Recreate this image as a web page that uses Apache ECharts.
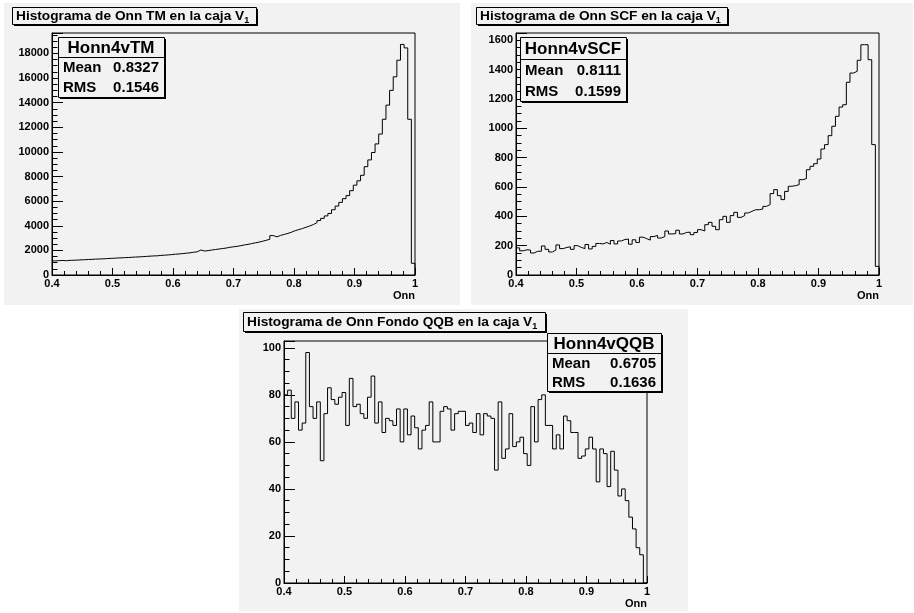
<!DOCTYPE html>
<html><head><meta charset="utf-8">
<script src="https://cdn.jsdelivr.net/npm/echarts@6/dist/echarts.min.js"></script>
<style>html,body{margin:0;padding:0;background:#fff}#c{width:914px;height:613px}</style>
</head><body><div id="c"></div>
<script>
// ---------------- DATA ----------------
const binEdgeMin = 0.4;
const binEdgeMax = 1.0;
const nBins = 100;
const xAxisTitle = 'Onn';

const valuesTM = [
  1150,1170,1180,1160,1190,1200,1210,1230,1240,1260,
  1270,1290,1300,1310,1330,1350,1360,1380,1390,1410,
  1420,1440,1460,1470,1490,1510,1530,1550,1560,1590,
  1610,1630,1660,1690,1710,1740,1770,1800,1850,1880,
  2030,1950,1980,2030,2070,2110,2150,2190,2250,2290,
  2330,2380,2440,2490,2550,2610,2670,2740,2820,2900,
  3200,3100,3220,3300,3380,3480,3600,3690,3780,3880,
  3980,4100,4250,4420,4600,4800,5000,5300,5600,5900,
  6200,6450,6850,7300,7650,8100,8800,9350,9950,10650,
  11450,12650,13800,15000,16100,17450,18730,18450,12650,950
];
const valuesSCF = [
  185,165,172,170,150,162,162,198,175,157,
  170,205,180,188,192,175,200,188,180,208,
  178,195,215,212,222,210,235,212,232,242,
  245,210,240,222,258,248,238,262,270,252,
  262,300,280,282,305,280,290,292,275,290,
  309,300,343,359,332,309,377,400,359,405,
  427,393,405,423,434,445,445,450,468,480,
  555,582,541,514,570,605,609,616,650,657,
  718,741,759,791,859,889,950,1014,1082,1145,
  1161,1314,1377,1389,1464,1570,1570,1468,889,59
];
const valuesQQB = [
  80,82,70,77,65,68,98,75,70,77,
  52,72,83,78,76,79,81,67,87,75,
  76,72,70,79,88,68,77,64,70,69,
  67,74,60,74,63,71,66,57,65,67,
  77,60,60,73,75,74,65,72,73,73,
  67,68,64,72,63,72,71,70,48,77,
  53,57,72,58,60,62,55,50,75,60,
  78,80,67,67,57,63,57,71,69,64,
  64,53,54,57,62,57,43,57,55,41,
  56,48,37,40,35,28,23,15,12,0
];

const histTitles = [
  'Histograma de Onn TM en la caja V',
  'Histograma de Onn SCF en la caja V',
  'Histograma de Onn Fondo QQB en la caja V'
];
const titleSub = '1';
const statsNames = ['Honn4vTM', 'Honn4vSCF', 'Honn4vQQB'];
const statsMean = ['0.8327', '0.8111', '0.6705'];
const statsRMS = ['0.1546', '0.1599', '0.1636'];
const yMaxes = [19660, 1650, 102.9];
const yIntervals = [2000, 200, 20];

// ---------------- LAYOUT ----------------
const FONT = '"Liberation Sans", Arial, Helvetica, sans-serif';
const PAD_BG = '#f2f2f2';
const pads = [
  {x: 4, y: 3, w: 456, h: 302},
  {x: 471, y: 3, w: 442, h: 302},
  {x: 239, y: 309, w: 449, h: 302}
];
const frames = [
  {left: 52, top: 33, width: 363, height: 242},
  {left: 516, top: 33, width: 363, height: 242},
  {left: 284, top: 341, width: 363, height: 242}
];
const titleBoxes = [
  {x: 12, y: 7, w: 244, h: 17},
  {x: 476, y: 7, w: 251, h: 17},
  {x: 243, y: 312, w: 302, h: 19}
];
const statBoxes = [
  {x: 58, y: 37, w: 106, h: 60, sep: 20},
  {x: 520, y: 37, w: 106, h: 64, sep: 22},
  {x: 547, y: 333, w: 114, h: 58, sep: 20}
];

function stepData(values) {
  const bw = (binEdgeMax - binEdgeMin) / nBins;
  const d = values.map((v, i) => [binEdgeMin + i * bw, v]);
  d.push([binEdgeMax, values[values.length - 1]]);
  d.push([binEdgeMax, 0]);
  return d;
}

const allValues = [valuesTM, valuesSCF, valuesQQB];

const grid = frames.map(f => ({
  left: f.left, top: f.top, width: f.width, height: f.height,
  show: true, backgroundColor: PAD_BG, borderColor: '#000', borderWidth: 1,
  containLabel: false
}));

const labelStyle = {color: '#000', fontFamily: FONT, fontWeight: 'bold', fontSize: 11};

const xAxis = frames.map((f, i) => ({
  gridIndex: i, type: 'value', min: binEdgeMin, max: binEdgeMax, interval: 0.1,
  axisLine: {show: true, onZero: false, lineStyle: {color: '#000', width: 1}},
  axisTick: {show: true, inside: true, length: 7, lineStyle: {color: '#000', width: 1}},
  minorTick: {show: true, splitNumber: 5, length: 4, lineStyle: {color: '#000', width: 1}},
  splitLine: {show: false},
  axisLabel: Object.assign({margin: 3, formatter: v => String(+v.toFixed(2))}, labelStyle),
  name: xAxisTitle, nameLocation: 'end', nameGap: 0,
  nameTextStyle: Object.assign({align: 'right', verticalAlign: 'top', padding: [15, 0, 0, 0]}, labelStyle)
}));

const yAxis = frames.map((f, i) => ({
  gridIndex: i, type: 'value', min: 0, max: yMaxes[i], interval: yIntervals[i],
  axisLine: {show: true, onZero: false, lineStyle: {color: '#000', width: 1}},
  axisTick: {show: true, inside: true, length: 11, lineStyle: {color: '#000', width: 1}},
  minorTick: {show: true, splitNumber: 4, length: 5.5, lineStyle: {color: '#000', width: 1}},
  splitLine: {show: false},
  axisLabel: Object.assign({margin: 3, showMaxLabel: false, formatter: v => String(v)}, labelStyle)
}));

const series = allValues.map((vals, i) => ({
  type: 'line', xAxisIndex: i, yAxisIndex: i, step: 'end',
  data: stepData(vals), showSymbol: false, symbol: 'none', silent: true,
  lineStyle: {color: '#000', width: 1}, clip: true, z: 5
}));

const graphics = [];
pads.forEach(p => graphics.push({
  type: 'rect', z: -100, silent: true,
  shape: {x: p.x, y: p.y, width: p.w, height: p.h},
  style: {fill: PAD_BG}
}));

titleBoxes.forEach((b, i) => {
  graphics.push({type: 'rect', z: 100, silent: true,
    shape: {x: b.x + 2, y: b.y + 2, width: b.w, height: b.h}, style: {fill: '#000'}});
  graphics.push({type: 'rect', z: 101, silent: true,
    shape: {x: b.x + 0.5, y: b.y + 0.5, width: b.w, height: b.h},
    style: {fill: PAD_BG, stroke: '#000', lineWidth: 1}});
  graphics.push({type: 'text', z: 102, silent: true,
    x: b.x + 4, y: b.y + b.h / 2 + 1,
    style: {
      text: '{a|' + histTitles[i] + '}{s|' + titleSub + '}',
      verticalAlign: 'middle', align: 'left',
      rich: {
        a: {fontFamily: FONT, fontWeight: 'bold', fontSize: 13.7, fill: '#000', lineHeight: 18, verticalAlign: 'middle'},
        s: {fontFamily: FONT, fontWeight: 'bold', fontSize: 9, fill: '#000', lineHeight: 9, verticalAlign: 'bottom'}
      }
    }});
});

statBoxes.forEach((b, i) => {
  graphics.push({type: 'rect', z: 100, silent: true,
    shape: {x: b.x + 2, y: b.y + 2, width: b.w, height: b.h}, style: {fill: '#000'}});
  graphics.push({type: 'rect', z: 101, silent: true,
    shape: {x: b.x + 0.5, y: b.y + 0.5, width: b.w, height: b.h},
    style: {fill: PAD_BG, stroke: '#000', lineWidth: 1}});
  graphics.push({type: 'line', z: 102, silent: true,
    shape: {x1: b.x, y1: b.y + b.sep + 0.5, x2: b.x + b.w, y2: b.y + b.sep + 0.5},
    style: {stroke: '#000', lineWidth: 1}});
  const rowH = (b.h - b.sep) / 2;
  graphics.push({type: 'text', z: 102, silent: true,
    x: b.x + b.w / 2, y: b.y + b.sep / 2 + 1,
    style: {text: statsNames[i], font: 'bold 17px ' + FONT, fill: '#000', align: 'center', verticalAlign: 'middle'}});
  graphics.push({type: 'text', z: 102, silent: true,
    x: b.x + 5, y: b.y + b.sep + rowH / 2 + 1,
    style: {text: 'Mean', font: 'bold 15px ' + FONT, fill: '#000', align: 'left', verticalAlign: 'middle'}});
  graphics.push({type: 'text', z: 102, silent: true,
    x: b.x + b.w - 5, y: b.y + b.sep + rowH / 2 + 1,
    style: {text: statsMean[i], font: 'bold 15px ' + FONT, fill: '#000', align: 'right', verticalAlign: 'middle'}});
  graphics.push({type: 'text', z: 102, silent: true,
    x: b.x + 5, y: b.y + b.sep + rowH * 1.5 + 1,
    style: {text: 'RMS', font: 'bold 15px ' + FONT, fill: '#000', align: 'left', verticalAlign: 'middle'}});
  graphics.push({type: 'text', z: 102, silent: true,
    x: b.x + b.w - 5, y: b.y + b.sep + rowH * 1.5 + 1,
    style: {text: statsRMS[i], font: 'bold 15px ' + FONT, fill: '#000', align: 'right', verticalAlign: 'middle'}});
});

const chart = echarts.init(document.getElementById('c'), null, {renderer: 'canvas', width: 914, height: 613});
chart.setOption({
  backgroundColor: '#ffffff',
  animation: false,
  grid, xAxis, yAxis, series,
  graphic: {elements: graphics}
});
</script></body></html>
